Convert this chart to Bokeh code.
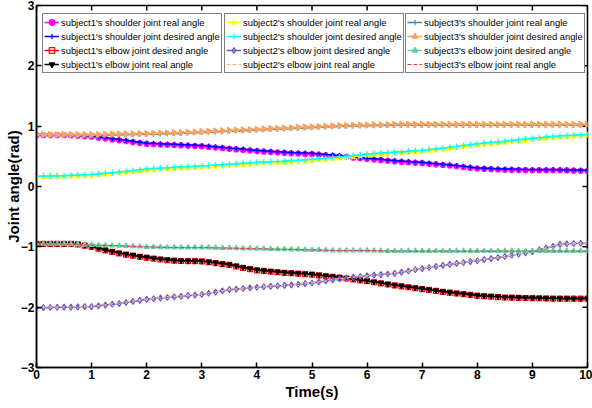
import numpy as np
from bokeh.plotting import figure
from bokeh.models import Legend, LegendItem, FixedTicker, Range1d
from bokeh.embed import file_html
from bokeh.resources import INLINE

# sampling times (s)
time_s = [round(i * 0.125, 3) for i in range(81)]

s1_shoulder_real = [0.85,0.85,0.85,0.85, 0.85,0.845,0.84,0.832, 0.825,0.81,0.795,0.78, 0.765,0.75,0.735,0.72,
    0.705,0.70,0.695,0.69, 0.685,0.68,0.675,0.67, 0.665,0.655,0.645,0.635, 0.625,0.615,0.605,0.595,
    0.585,0.578,0.57,0.563, 0.556,0.55,0.545,0.54, 0.535,0.526,0.517,0.508, 0.50,0.49,0.478,0.467,
    0.456,0.446,0.436,0.426, 0.416,0.408,0.40,0.393, 0.386,0.376,0.366,0.356, 0.346,0.334,0.321,0.308,
    0.297,0.292,0.287,0.282, 0.278,0.275,0.273,0.27, 0.268,0.268,0.268,0.268, 0.268,0.266,0.263,0.26, 0.258]
s1_shoulder_desired = [0.86,0.86,0.86,0.86, 0.86,0.855,0.85,0.845, 0.84,0.825,0.81,0.795, 0.78,0.765,0.75,0.735,
    0.72,0.715,0.71,0.705, 0.70,0.695,0.69,0.685, 0.68,0.67,0.66,0.65, 0.64,0.63,0.62,0.61,
    0.60,0.592,0.585,0.578, 0.57,0.565,0.56,0.555, 0.55,0.541,0.532,0.524, 0.515,0.504,0.492,0.481,
    0.47,0.46,0.45,0.44, 0.43,0.422,0.415,0.408, 0.40,0.39,0.38,0.37, 0.36,0.348,0.335,0.322,
    0.31,0.305,0.30,0.295, 0.29,0.288,0.285,0.282, 0.28,0.28,0.28,0.28, 0.28,0.278,0.275,0.272, 0.27]
s1_elbow_desired = [-0.95,-0.95,-0.95,-0.95, -0.95,-0.95,-0.96,-0.98, -1.00,-1.03,-1.06,-1.085, -1.11,-1.13,-1.145,-1.165,
    -1.18,-1.195,-1.21,-1.22, -1.23,-1.235,-1.237,-1.238, -1.24,-1.255,-1.27,-1.285, -1.30,-1.325,-1.35,-1.37,
    -1.39,-1.40,-1.41,-1.42, -1.43,-1.437,-1.445,-1.452, -1.46,-1.472,-1.485,-1.497, -1.51,-1.525,-1.54,-1.555,
    -1.57,-1.587,-1.605,-1.622, -1.64,-1.655,-1.67,-1.685, -1.70,-1.715,-1.73,-1.745, -1.76,-1.772,-1.785,-1.797,
    -1.81,-1.818,-1.825,-1.832, -1.84,-1.842,-1.845,-1.848, -1.85,-1.852,-1.855,-1.858, -1.86,-1.86,-1.86,-1.86, -1.86]
s1_elbow_real = [-0.95,-0.95,-0.95,-0.95, -0.95,-0.95,-0.955,-0.975, -0.995,-1.02,-1.05,-1.075, -1.10,-1.12,-1.138,-1.157,
    -1.172,-1.187,-1.20,-1.212, -1.222,-1.228,-1.23,-1.232, -1.234,-1.248,-1.262,-1.278, -1.292,-1.315,-1.34,-1.36,
    -1.38,-1.392,-1.402,-1.412, -1.422,-1.43,-1.438,-1.445, -1.452,-1.465,-1.478,-1.49, -1.502,-1.517,-1.532,-1.547,
    -1.562,-1.58,-1.597,-1.615, -1.632,-1.647,-1.662,-1.677, -1.692,-1.707,-1.722,-1.737, -1.752,-1.765,-1.778,-1.79,
    -1.802,-1.81,-1.818,-1.825, -1.832,-1.835,-1.838,-1.841, -1.843,-1.846,-1.849,-1.852, -1.854,-1.855,-1.856,-1.857, -1.858]

s2_shoulder_real = [0.16,0.162,0.165,0.168, 0.17,0.174,0.178,0.182, 0.186,0.195,0.204,0.213, 0.222,0.234,0.246,0.258,
    0.27,0.278,0.285,0.292, 0.30,0.305,0.31,0.315, 0.32,0.328,0.335,0.342, 0.35,0.358,0.365,0.372,
    0.38,0.385,0.39,0.395, 0.40,0.408,0.415,0.422, 0.43,0.44,0.45,0.46, 0.47,0.482,0.495,0.508,
    0.52,0.528,0.535,0.542, 0.55,0.558,0.565,0.572, 0.58,0.592,0.605,0.618, 0.63,0.645,0.66,0.675,
    0.69,0.70,0.71,0.72, 0.73,0.742,0.755,0.768, 0.78,0.79,0.80,0.81, 0.82,0.827,0.835,0.842, 0.85]
s2_shoulder_desired = [0.17,0.172,0.175,0.178, 0.18,0.185,0.19,0.195, 0.20,0.21,0.22,0.23, 0.24,0.252,0.265,0.278,
    0.29,0.298,0.305,0.312, 0.32,0.325,0.33,0.335, 0.34,0.348,0.355,0.362, 0.37,0.378,0.385,0.392,
    0.40,0.405,0.41,0.415, 0.42,0.428,0.435,0.442, 0.45,0.46,0.47,0.48, 0.49,0.502,0.515,0.528,
    0.54,0.548,0.555,0.562, 0.57,0.578,0.585,0.592, 0.60,0.612,0.625,0.638, 0.65,0.665,0.68,0.695,
    0.71,0.72,0.73,0.74, 0.75,0.762,0.775,0.788, 0.80,0.81,0.82,0.83, 0.84,0.845,0.85,0.855, 0.86]
s2_elbow_desired = [-2.01,-2.008,-2.005,-2.002, -2.00,-1.998,-1.995,-1.992, -1.99,-1.978,-1.965,-1.952, -1.94,-1.922,-1.905,-1.888,
    -1.87,-1.86,-1.85,-1.84, -1.83,-1.82,-1.81,-1.80, -1.79,-1.77,-1.75,-1.73, -1.71,-1.70,-1.69,-1.68,
    -1.67,-1.662,-1.655,-1.648, -1.64,-1.63,-1.62,-1.61, -1.60,-1.582,-1.565,-1.548, -1.53,-1.518,-1.505,-1.492,
    -1.48,-1.47,-1.46,-1.45, -1.44,-1.42,-1.40,-1.38, -1.36,-1.342,-1.325,-1.308, -1.29,-1.275,-1.26,-1.245,
    -1.23,-1.212,-1.195,-1.178, -1.16,-1.14,-1.12,-1.10, -1.08,-1.05,-1.02,-0.99, -0.96,-0.95,-0.945,-0.94, -0.94]
s2_elbow_real = [-2.005,-2.003,-2.0,-1.998, -1.996,-1.994,-1.991,-1.988, -1.985,-1.973,-1.96,-1.947, -1.935,-1.917,-1.9,-1.883,
    -1.866,-1.856,-1.846,-1.836, -1.826,-1.816,-1.806,-1.796, -1.786,-1.766,-1.746,-1.726, -1.707,-1.697,-1.687,-1.677,
    -1.667,-1.659,-1.652,-1.645, -1.637,-1.627,-1.617,-1.607, -1.597,-1.579,-1.562,-1.545, -1.527,-1.515,-1.502,-1.489,
    -1.477,-1.467,-1.457,-1.447, -1.437,-1.417,-1.397,-1.377, -1.357,-1.339,-1.322,-1.305, -1.287,-1.272,-1.257,-1.242,
    -1.227,-1.209,-1.192,-1.175, -1.157,-1.137,-1.117,-1.097, -1.077,-1.047,-1.017,-0.987, -0.958,-0.948,-0.943,-0.938, -0.938]

s3_shoulder_real = [0.845,0.845,0.845,0.845, 0.845,0.845,0.845,0.845, 0.845,0.847,0.85,0.853, 0.855,0.857,0.86,0.863,
    0.865,0.867,0.87,0.873, 0.875,0.88,0.885,0.89, 0.895,0.90,0.905,0.91, 0.915,0.92,0.925,0.93,
    0.935,0.94,0.945,0.95, 0.955,0.96,0.965,0.97, 0.975,0.98,0.985,0.99, 0.995,0.997,1.0,1.003,
    1.005,1.007,1.01,1.013, 1.015,1.015,1.015,1.015, 1.015,1.015,1.015,1.015, 1.015,1.015,1.015,1.015,
    1.015,1.015,1.015,1.015, 1.015,1.015,1.015,1.015, 1.015,1.015,1.015,1.015, 1.015,1.015,1.015,1.015, 1.015]
s3_shoulder_desired = [0.86,0.86,0.86,0.86, 0.86,0.86,0.86,0.86, 0.86,0.862,0.865,0.868, 0.87,0.872,0.875,0.878,
    0.88,0.882,0.885,0.888, 0.89,0.895,0.90,0.905, 0.91,0.915,0.92,0.925, 0.93,0.935,0.94,0.945,
    0.95,0.955,0.96,0.965, 0.97,0.975,0.98,0.985, 0.99,0.995,1.0,1.005, 1.01,1.012,1.015,1.018,
    1.02,1.022,1.025,1.028, 1.03,1.03,1.03,1.03, 1.03,1.03,1.03,1.03, 1.03,1.03,1.03,1.03,
    1.03,1.03,1.03,1.03, 1.03,1.03,1.03,1.03, 1.03,1.03,1.03,1.03, 1.03,1.03,1.03,1.03, 1.03]
s3_elbow_desired = [-0.95,-0.95,-0.95,-0.95, -0.95,-0.955,-0.96,-0.965, -0.97,-0.972,-0.975,-0.978, -0.98,-0.985,-0.99,-0.995,
    -1.00,-1.002,-1.005,-1.008, -1.01,-1.01,-1.01,-1.01, -1.01,-1.012,-1.015,-1.018, -1.02,-1.022,-1.025,-1.028,
    -1.03,-1.032,-1.035,-1.038, -1.04,-1.042,-1.045,-1.048, -1.05,-1.052,-1.055,-1.058, -1.06,-1.06,-1.06,-1.06,
    -1.06,-1.062,-1.065,-1.068, -1.07,-1.07,-1.07,-1.07, -1.07,-1.07,-1.07,-1.07, -1.07,-1.07,-1.07,-1.07,
    -1.07,-1.07,-1.07,-1.07, -1.07,-1.07,-1.07,-1.07, -1.07,-1.07,-1.07,-1.07, -1.07,-1.07,-1.07,-1.07, -1.07]
s3_elbow_real = [-0.95,-0.95,-0.95,-0.95, -0.952,-0.957,-0.962,-0.967, -0.972,-0.974,-0.977,-0.98, -0.982,-0.987,-0.992,-0.997,
    -1.002,-1.004,-1.007,-1.01, -1.012,-1.012,-1.012,-1.012, -1.012,-1.014,-1.017,-1.02, -1.022,-1.024,-1.027,-1.03,
    -1.032,-1.034,-1.037,-1.04, -1.042,-1.044,-1.047,-1.05, -1.052,-1.054,-1.057,-1.06, -1.062,-1.062,-1.062,-1.062,
    -1.062,-1.064,-1.067,-1.07, -1.072,-1.072,-1.072,-1.072, -1.072,-1.072,-1.072,-1.072, -1.072,-1.072,-1.072,-1.072,
    -1.072,-1.072,-1.072,-1.072, -1.072,-1.072,-1.072,-1.072, -1.072,-1.072,-1.072,-1.072, -1.072,-1.072,-1.072,-1.072, -1.072]

x_ticks = [0, 1, 2, 3, 4, 5, 6, 7, 8, 9, 10]
y_ticks = [-3, -2, -1, 0, 1, 2, 3]

FONT = "Liberation Sans"
X0, X1, Y0, Y1 = 0, 10, -3, 3

p = figure(width=592, height=408, output_backend="svg", toolbar_location=None,
           x_range=Range1d(X0, X1), y_range=Range1d(Y0, Y1),
           min_border_left=36, min_border_right=5, min_border_top=5, min_border_bottom=41,
           background_fill_color="white", border_fill_color="white")
p.xgrid.visible = False
p.ygrid.visible = False
p.outline_line_color = "black"
p.outline_line_width = 1.5

for ax, ticks in ((p.xaxis[0], x_ticks), (p.yaxis[0], y_ticks)):
    ax.ticker = FixedTicker(ticks=ticks)
    ax.major_tick_in = 5
    ax.major_tick_out = 0
    ax.minor_tick_in = 0
    ax.minor_tick_out = 0
    ax.axis_line_width = 1.5
    ax.axis_line_color = "black"
    ax.major_tick_line_width = 1.5
    ax.major_label_text_font = FONT
    ax.major_label_text_font_style = "bold"
    ax.major_label_text_color = "black"
    ax.major_label_text_font_size = "12px"
    ax.major_label_standoff = 2
    ax.axis_label_text_font = FONT
    ax.axis_label_text_font_style = "bold"
    ax.axis_label_text_color = "black"
    ax.axis_label_text_font_size = "15px"
p.xaxis[0].axis_label = "Time(s)"
p.xaxis[0].axis_label_standoff = 1
p.yaxis[0].axis_label = "Joint angle(rad)"
p.yaxis[0].axis_label_standoff = -4

# box ticks on the top and right edges (inward, ~5 px)
tick_dy = 5 / 60.3
tick_dx = 5 / 55.1
p.segment(x0=x_ticks, y0=[Y1] * len(x_ticks), x1=x_ticks, y1=[Y1 - tick_dy] * len(x_ticks),
          line_color="black", line_width=1.5)
p.segment(x0=[X1] * len(y_ticks), y0=y_ticks, x1=[X1 - tick_dx] * len(y_ticks), y1=y_ticks,
          line_color="black", line_width=1.5)

# (label, data, color, marker, size, filled, dash, width, angle)
series = [
    [
        ("subject1's shoulder joint real angle", s1_shoulder_real, "#FF00FF", "circle", 5, True, "solid", 1.5, 0),
        ("subject1's shoulder joint desired angle", s1_shoulder_desired, "#0000FF", "cross", 5, False, "solid", 1.5, 0),
        ("subject1's elbow joint desired angle", s1_elbow_desired, "#FF0000", "square", 5, False, "solid", 1.5, 0),
        ("subject1's elbow joint real angle", s1_elbow_real, "#000000", "inverted_triangle", 5, True, "solid", 1.5, 0),
    ],
    [
        ("subject2's shoulder joint real angle", s2_shoulder_real, "#FFFF00", "star", 6, True, "solid", 1.5, 0),
        ("subject2's shoulder joint desired angle", s2_shoulder_desired, "#00FFFF", "cross", 6, False, "solid", 1.5, 0),
        ("subject2's elbow joint desired angle", s2_elbow_desired, "#6A5ACD", "diamond", 6, False, "solid", 1.5, 0),
        ("subject2's elbow joint real angle", s2_elbow_real, "#F0B878", None, 0, False, "4 2", 1.2, 0),
    ],
    [
        ("subject3's shoulder joint real angle", s3_shoulder_real, "#4682B4", "cross", 5, False, "solid", 1.5, 0),
        ("subject3's shoulder joint desired angle", s3_shoulder_desired, "#F4A460", "triangle", 6, True, "solid", 1.5, -np.pi / 2),
        ("subject3's elbow joint desired angle", s3_elbow_desired, "#66CDAA", "triangle", 5, True, "solid", 1.5, 0),
        ("subject3's elbow joint real angle", s3_elbow_real, "#FF3030", None, 0, False, "4 2", 1.0, 0),
    ],
]

legend_x = [6, 188, 369]
for gi, group in enumerate(series):
    items = []
    for (label, vals, color, marker, size, filled, dash, lw, ang) in group:
        rs = [p.line(time_s, vals, line_color=color, line_width=lw, line_dash=dash)]
        if marker is not None:
            sc = p.scatter(time_s, vals, marker=marker, size=size, line_color=color,
                           fill_color=color if filled else None, line_width=1.2, angle=ang)
            rs.append(sc)
        items.append(LegendItem(label=label, renderers=rs))
    leg = Legend(items=items, location=(legend_x[gi], 294),
                 border_line_color="black", border_line_width=1,
                 background_fill_color="white", background_fill_alpha=1.0,
                 label_text_font=FONT, label_text_font_size="9.4px", label_text_color="black",
                 label_height=14, glyph_height=14, glyph_width=15, label_standoff=2,
                 padding=1, spacing=0, margin=0)
    p.add_layout(leg, "center")

open("out.html", "w").write(file_html(p, INLINE))
